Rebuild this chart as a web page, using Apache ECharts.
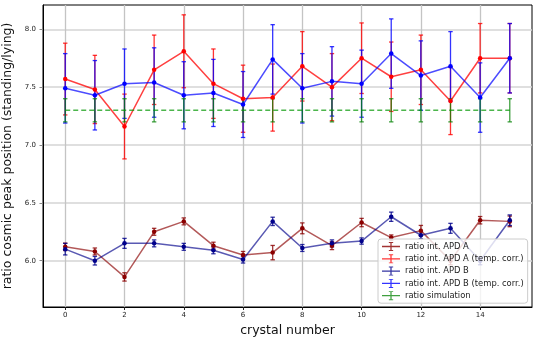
<!DOCTYPE html>
<html>
<head>
<meta charset="utf-8">
<script src="https://cdn.jsdelivr.net/npm/echarts@6/dist/echarts.min.js"></script>
<style>
  html, body { margin: 0; padding: 0; background: #ffffff; }
  #ratio-chart { width: 533px; height: 338px; }
</style>
</head>
<body>
<div id="ratio-chart"></div>
<script>
// Datos
const crystals = [0, 1, 2, 3, 4, 5, 6, 7, 8, 9, 10, 11, 12, 13, 14, 15];
const xTicks = [0, 2, 4, 6, 8, 10, 12, 14];
const yTicks = [6.0, 6.5, 7.0, 7.5, 8.0];

const ratioA = [6.12, 6.08, 5.86, 6.25, 6.34, 6.13, 6.05, 6.07, 6.28, 6.13, 6.33, 6.20, 6.26, 6.00, 6.35, 6.34];
const errA = [0.032, 0.030, 0.036, 0.030, 0.030, 0.030, 0.030, 0.062, 0.047, 0.034, 0.036, 0.023, 0.045, 0.035, 0.032, 0.046];

const ratioATemp = [7.57, 7.48, 7.16, 7.65, 7.81, 7.53, 7.40, 7.41, 7.68, 7.50, 7.75, 7.59, 7.65, 7.38, 7.75, 7.75];
const errATemp = [0.31, 0.295, 0.28, 0.30, 0.315, 0.30, 0.29, 0.29, 0.30, 0.29, 0.305, 0.30, 0.30, 0.29, 0.30, 0.30];

const ratioB = [6.10, 6.00, 6.15, 6.15, 6.12, 6.09, 6.01, 6.34, 6.11, 6.15, 6.17, 6.38, 6.22, 6.28, 6.00, 6.35];
const errB = [0.050, 0.037, 0.043, 0.030, 0.030, 0.030, 0.030, 0.036, 0.030, 0.030, 0.027, 0.040, 0.030, 0.043, 0.035, 0.046];

const ratioBTemp = [7.49, 7.43, 7.53, 7.54, 7.43, 7.45, 7.35, 7.74, 7.49, 7.55, 7.53, 7.79, 7.60, 7.68, 7.41, 7.75];
const errBTemp = [0.30, 0.30, 0.30, 0.30, 0.29, 0.29, 0.285, 0.30, 0.30, 0.30, 0.29, 0.30, 0.30, 0.30, 0.30, 0.30];

const ratioSim = [7.30, 7.30, 7.30, 7.30, 7.30, 7.30, 7.30, 7.30, 7.30, 7.30, 7.30, 7.30, 7.30, 7.30, 7.30, 7.30];
const errSim = [0.10, 0.10, 0.10, 0.10, 0.10, 0.10, 0.10, 0.10, 0.10, 0.10, 0.10, 0.10, 0.10, 0.10, 0.10, 0.10];

const seriesNames = [
    'ratio int. APD A',
    'ratio int. APD A (temp. corr.)',
    'ratio int. APD B',
    'ratio int. APD B (temp. corr.)',
    'ratio simulation'
];

const FONT = 'DejaVu Sans';

// icono de la leyenda: línea con barra de error
const errIcon = 'path://M0,4.3H20V5.7H0Z M9.3,0H10.7V10H9.3Z M7.6,0H12.4V1H7.6Z M7.6,9H12.4V10H7.6Z';

function initRatioChart() {
    const chart = echarts.init(document.getElementById('ratio-chart'));

    // barras de error como serie custom
    function errorBarSeries(name, values, errors, color) {
        return {
            name: name,
            type: 'custom',
            itemStyle: { color: color },
            renderItem: function (params, api) {
                const x = api.value(0);
                const y = api.value(1);
                const e = api.value(2);
                const top = api.coord([x, y + e]);
                const bot = api.coord([x, y - e]);
                const cap = 2.2;
                const style = { stroke: color, lineWidth: 1.3 };
                return {
                    type: 'group',
                    children: [
                        { type: 'line', shape: { x1: top[0], y1: top[1], x2: bot[0], y2: bot[1] }, style: style },
                        { type: 'line', shape: { x1: top[0] - cap, y1: top[1], x2: top[0] + cap, y2: top[1] }, style: style },
                        { type: 'line', shape: { x1: bot[0] - cap, y1: bot[1], x2: bot[0] + cap, y2: bot[1] }, style: style }
                    ]
                };
            },
            encode: { x: 0, y: 1 },
            data: crystals.map((c, i) => [c, values[i], errors[i]]),
            silent: true
        };
    }

    function lineSeries(name, values, color, lineColor, dashed, withSymbol) {
        return {
            name: name,
            type: 'line',
            data: crystals.map((c, i) => [c, values[i]]),
            symbol: withSymbol ? 'circle' : 'none',
            symbolSize: 4.5,
            itemStyle: { color: color },
            lineStyle: {
                color: lineColor,
                width: 1.5,
                type: dashed ? [5, 3] : 'solid'
            },
            silent: true
        };
    }

    const option = {
        animation: false,
        backgroundColor: '#ffffff',
        grid: {
            left: 43,
            right: 1,
            top: 5,
            bottom: 31,
            outerBoundsMode: 'none',
            containLabel: false,
            show: true,
            borderColor: '#000000',
            borderWidth: 1,
            backgroundColor: 'transparent'
        },
        legend: {
            orient: 'vertical',
            left: 378,
            top: 239,
            data: seriesNames.map(n => ({ name: n, icon: errIcon })),
            itemWidth: 18,
            itemHeight: 9,
            itemGap: 3.3,
            padding: [3, 4, 3, 4],
            backgroundColor: 'rgba(255,255,255,0.8)',
            borderColor: '#cccccc',
            borderWidth: 1,
            borderRadius: 3,
            textStyle: {
                fontFamily: FONT,
                fontSize: 8.4,
                color: '#222222'
            },
            selectedMode: false
        },
        xAxis: {
            type: 'value',
            min: -0.75,
            max: 15.75,
            splitNumber: 8,
            name: 'crystal number',
            nameLocation: 'middle',
            nameGap: 14,
            nameTextStyle: { fontFamily: FONT, fontSize: 12.5, color: '#111111' },
            axisLine: { show: true, onZero: false, lineStyle: { color: '#000000', width: 1 } },
            axisTick: { show: true, length: 3, customValues: xTicks, lineStyle: { color: '#222222' } },
            axisLabel: {
                fontFamily: FONT,
                fontSize: 7,
                color: '#222222',
                margin: 5,
                customValues: xTicks,
                formatter: function (v) {
                    return Number.isInteger(Math.round(v * 1000) / 1000) ? String(Math.round(v)) : '';
                }
            },
            splitLine: { show: true, lineStyle: { color: '#c4c4c4', width: 1.3 } }
        },
        yAxis: {
            type: 'value',
            min: 5.6,
            max: 8.21,
            splitNumber: 5,
            name: 'ratio cosmic peak position (standing/lying)',
            nameLocation: 'middle',
            nameGap: 24,
            nameTextStyle: { fontFamily: FONT, fontSize: 12.5, color: '#111111' },
            axisLine: { show: true, onZero: false, lineStyle: { color: '#000000', width: 1 } },
            axisTick: { show: true, length: 3.5, customValues: yTicks, lineStyle: { color: '#888888' } },
            axisLabel: {
                fontFamily: FONT,
                fontSize: 7,
                color: '#222222',
                margin: 7,
                customValues: yTicks,
                formatter: function (v) {
                    return Math.abs(v * 2 - Math.round(v * 2)) < 1e-6 ? v.toFixed(1) : '';
                }
            },
            splitLine: { show: true, lineStyle: { color: '#d4d4d4', width: 1.6 } }
        },
        series: [
            errorBarSeries(seriesNames[0], ratioA, errA, 'rgba(139,0,0,0.8)'),
            lineSeries(seriesNames[0], ratioA, '#8b0000', 'rgba(139,0,0,0.65)', false, true),
            errorBarSeries(seriesNames[1], ratioATemp, errATemp, 'rgba(255,0,0,0.8)'),
            lineSeries(seriesNames[1], ratioATemp, '#ff0000', 'rgba(255,0,0,0.75)', false, true),
            errorBarSeries(seriesNames[2], ratioB, errB, 'rgba(0,0,139,0.8)'),
            lineSeries(seriesNames[2], ratioB, '#00008b', 'rgba(0,0,139,0.65)', false, true),
            errorBarSeries(seriesNames[3], ratioBTemp, errBTemp, 'rgba(0,0,255,0.8)'),
            lineSeries(seriesNames[3], ratioBTemp, '#0000ff', 'rgba(0,0,255,0.7)', false, true),
            errorBarSeries(seriesNames[4], ratioSim, errSim, 'rgba(0,128,0,0.75)'),
            lineSeries(seriesNames[4], ratioSim, '#008000', 'rgba(0,150,0,0.7)', true, false)
        ]
    };

    chart.setOption(option);
    return chart;
}

window.ratioChart = initRatioChart();
</script>
</body>
</html>
